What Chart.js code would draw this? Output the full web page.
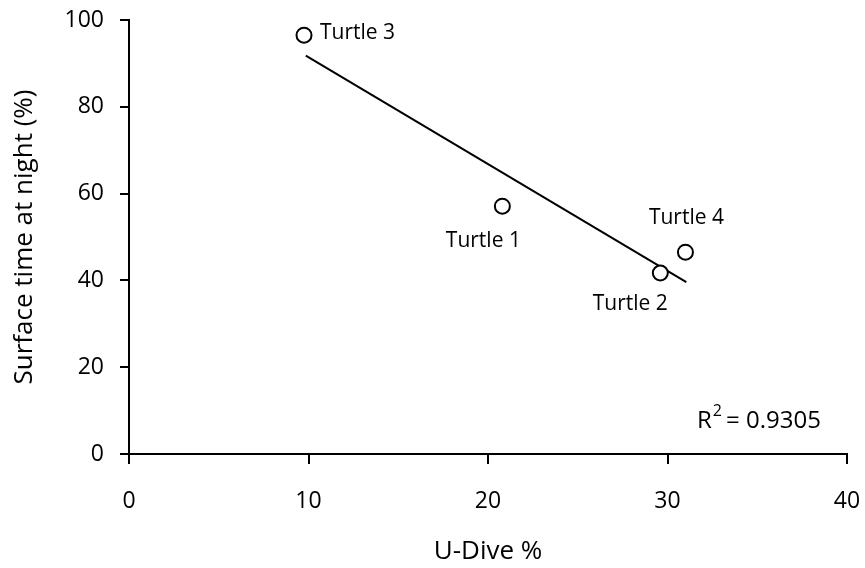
<!DOCTYPE html>
<html>
<head>
<meta charset="utf-8">
<script src="https://cdn.jsdelivr.net/npm/chart.js@4"></script>
<style>
  html, body { margin: 0; padding: 0; background: #fff; }
  #wrap { width: 865px; height: 568px; }
</style>
</head>
<body>
<div id="wrap"><canvas id="turtleChart"></canvas></div>
<script>
// values
const turtleNames = ['Turtle 1', 'Turtle 2', 'Turtle 3', 'Turtle 4'];
const uDive = [20.8, 29.6, 9.75, 31.0];
const surfaceNight = [57.1, 41.7, 96.5, 46.5];

// trend line end points (linear fit as drawn)
const trendX = [9.85, 31.05];
const trendY = [91.8, 39.6];
const rSquared = '0.9305';

const xTicks = [0, 10, 20, 30, 40];
const yTicks = [0, 20, 40, 60, 80, 100];

const font = "'Open Sans', 'Liberation Sans', sans-serif";

// where each name goes relative to its point
const labelPlace = {
  'Turtle 1': { dx: -19, dy: 35, align: 'center' },
  'Turtle 2': { dx: -30, dy: 31, align: 'center' },
  'Turtle 3': { dx: 16, dy: -2, align: 'left' },
  'Turtle 4': { dx: 1, dy: -34, align: 'center' }
};

const labelPlugin = {
  id: 'turtleLabels',
  afterDatasetsDraw(chart) {
    const ctx = chart.ctx;
    const xs = chart.scales.x;
    const ys = chart.scales.y;
    ctx.save();
    ctx.fillStyle = '#000';
    ctx.font = '21px ' + font;
    ctx.textBaseline = 'middle';
    turtleNames.forEach((name, i) => {
      const p = labelPlace[name];
      ctx.textAlign = p.align;
      ctx.fillText(name, xs.getPixelForValue(uDive[i]) + p.dx, ys.getPixelForValue(surfaceNight[i]) + p.dy);
    });

    // R squared note
    ctx.font = '24px ' + font;
    ctx.textAlign = 'left';
    ctx.textBaseline = 'alphabetic';
    const rx = 697, ry = 428;
    ctx.fillText('R', rx, ry);
    const rw = ctx.measureText('R').width;
    ctx.font = '16px ' + font;
    ctx.fillText('2', rx + rw + 1, ry - 12);
    ctx.font = '24px ' + font;
    ctx.fillText(' = ' + rSquared, rx + rw + 8, ry);
    ctx.restore();
  }
};

function noPad(s) {
  s.paddingTop = 0;
  s.paddingBottom = 0;
  s.paddingLeft = 0;
  s.paddingRight = 0;
}

new Chart(document.getElementById('turtleChart'), {
  type: 'scatter',
  data: {
    datasets: [
      {
        label: 'Turtles',
        data: uDive.map((v, i) => ({ x: v, y: surfaceNight[i] })),
        pointRadius: 7.5,
        pointHoverRadius: 7.5,
        pointBackgroundColor: '#fff',
        pointBorderColor: '#000',
        pointBorderWidth: 2,
        order: 1
      },
      {
        label: 'Trend',
        type: 'line',
        data: trendX.map((v, i) => ({ x: v, y: trendY[i] })),
        borderColor: '#000',
        borderWidth: 2,
        pointRadius: 0,
        fill: false,
        order: 2
      }
    ]
  },
  options: {
    responsive: true,
    maintainAspectRatio: false,
    animation: false,
    layout: { padding: { top: 20, right: 18, left: 0, bottom: 0 } },
    plugins: {
      legend: { display: false },
      tooltip: { enabled: false }
    },
    scales: {
      x: {
        type: 'linear',
        min: 0,
        max: 40,
        afterBuildTicks: (s) => { s.ticks = xTicks.map(v => ({ value: v })); },
        afterFit: (s) => { s.height = 114; noPad(s); },
        grid: { drawOnChartArea: false, drawTicks: true, tickLength: 10, color: '#000', lineWidth: 2 },
        border: { color: '#000', width: 2 },
        ticks: { color: '#000', font: { family: font, size: 23 }, padding: 24 },
        title: { display: true, text: 'U-Dive %', color: '#000', font: { family: font, size: 26 }, padding: { top: 0, bottom: 1 } }
      },
      y: {
        type: 'linear',
        min: 0,
        max: 100,
        afterBuildTicks: (s) => { s.ticks = yTicks.map(v => ({ value: v })); },
        afterFit: (s) => { s.width = 129; noPad(s); },
        grid: { drawOnChartArea: false, drawTicks: true, tickLength: 9, color: '#000', lineWidth: 2 },
        border: { color: '#000', width: 2 },
        ticks: { color: '#000', font: { family: font, size: 23 }, padding: 16 },
        title: { display: true, text: 'Surface time at night (%)', color: '#000', font: { family: font, size: 26 }, padding: { top: 9, bottom: 0 } }
      }
    }
  },
  plugins: [labelPlugin]
});
</script>
</body>
</html>
